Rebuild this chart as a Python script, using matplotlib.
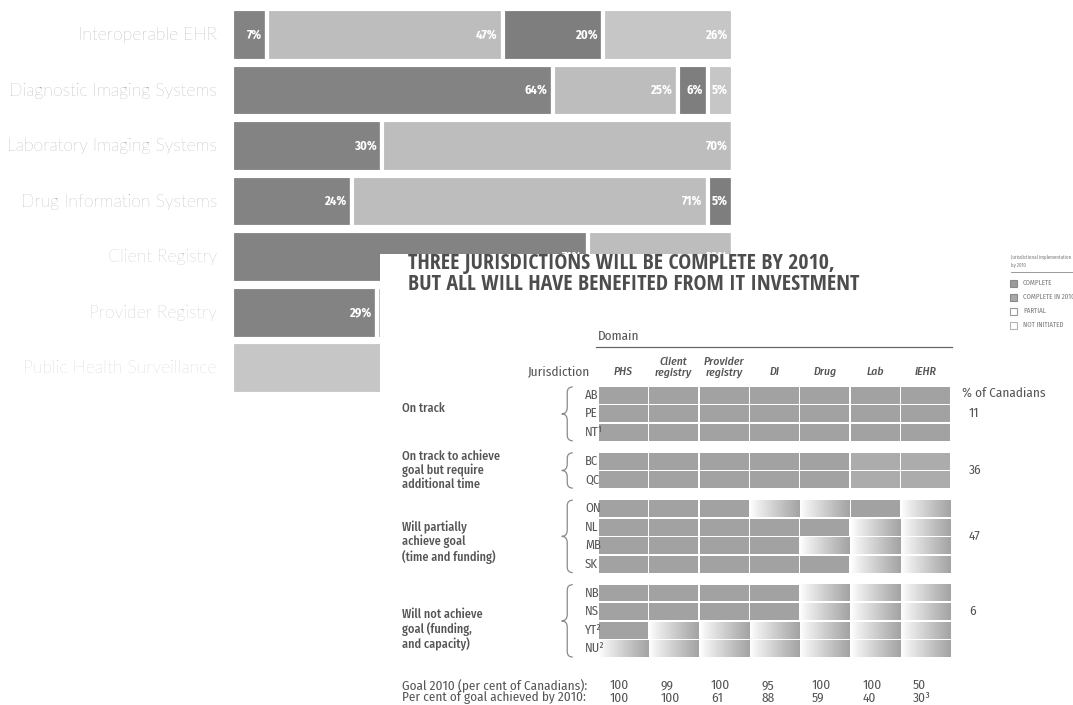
import matplotlib
matplotlib.use('Agg')
import matplotlib.pyplot as plt
import numpy as np
from matplotlib.patches import Rectangle, PathPatch
from matplotlib.path import Path
import matplotlib.transforms as mtransforms
from matplotlib import font_manager as fm

# ---------------- data ----------------
bar_categories = ["Interoperable EHR", "Diagnostic Imaging Systems", "Laboratory Imaging Systems",
                  "Drug Information Systems", "Client Registry", "Provider Registry",
                  "Public Health Surveillance"]
seg_1 = [7, 64, 30, 24, 71, 29, 0]
seg_2 = [47, 25, 70, 71, 29, 71, 0]
seg_3 = [20, 6, 0, 5, 0, 0, 0]
seg_4 = [26, 5, 0, 0, 0, 0, 100]

domains = ["PHS", "Client\nregistry", "Provider\nregistry", "DI", "Drug", "Lab", "iEHR"]
jurisdictions = ["AB", "PE", "NT¹", "BC", "QC", "ON", "NL", "MB", "SK", "NB", "NS", "YT²", "NU²"]
group_labels = ["On track",
                "On track to achieve\ngoal but require\nadditional time",
                "Will partially\nachieve goal\n(time and funding)",
                "Will not achieve\ngoal (funding,\nand capacity)"]
group_sizes = [3, 2, 4, 4]
pct_canadians = [11, 36, 47, 6]
# 0 complete, 1 complete in 2010, 2 partial, 3 not initiated
status = [
    [0, 0, 0, 0, 0, 0, 0],  # AB
    [0, 0, 0, 0, 0, 0, 0],  # PE
    [0, 0, 0, 0, 0, 0, 0],  # NT
    [0, 0, 0, 0, 0, 1, 1],  # BC
    [0, 0, 0, 0, 0, 1, 1],  # QC
    [0, 0, 0, 2, 2, 0, 2],  # ON
    [0, 0, 0, 0, 0, 2, 2],  # NL
    [0, 0, 0, 0, 2, 2, 2],  # MB
    [0, 0, 0, 0, 0, 2, 2],  # SK
    [0, 0, 0, 0, 2, 2, 2],  # NB
    [0, 0, 0, 0, 2, 2, 2],  # NS
    [0, 2, 2, 2, 2, 2, 2],  # YT
    [2, 2, 2, 2, 2, 2, 2],  # NU
]
goal_2010 = ["100", "99", "100", "95", "100", "100", "50"]
goal_achieved = ["100", "100", "61", "88", "59", "40", "30³"]
legend_labels = ["COMPLETE", "COMPLETE IN 2010", "PARTIAL", "NOT INITIATED"]
title_lines = ["THREE JURISDICTIONS WILL BE COMPLETE BY 2010,",
               "BUT ALL WILL HAVE BENEFITED FROM IT INVESTMENT"]

# ---------------- helpers ----------------
installed = {f.name for f in fm.fontManager.ttflist}
def pick(*names):
    for n in names:
        if n in installed:
            return n
    return 'DejaVu Sans'

F_TITLE = pick('Open Sans Condensed', 'Fira Sans Condensed', 'Asap Condensed', 'Open Sans')
F_LABEL = pick('Lato', 'Open Sans', 'DejaVu Sans')
F_SMALL = pick('Fira Sans Condensed', 'Asap Condensed', 'Liberation Sans Narrow', 'Open Sans')
F_PCT = pick('Fira Sans Condensed', 'Asap Condensed', 'Liberation Sans Narrow', 'Open Sans')

W, H = 1073, 705
fig = plt.figure(figsize=(W / 100, H / 100), dpi=100)
fig.patch.set_facecolor('white')
renderer = fig.canvas.get_renderer()

def fit(t, target):
    w = t.get_window_extent(renderer).width
    t.set_fontsize(t.get_fontsize() * target / w)
    return t.get_fontsize()

# ---------------- bar chart ----------------
ax_b = fig.add_axes([232 / W, 1 - 396 / H, 501 / W, 388.75 / H])
ax_b.set_zorder(1)
ax_b.set_xlim(0, 100)
ax_b.set_ylim(len(bar_categories) - 0.5, -0.5)
ax_b.axis('off')
ypos = np.arange(len(bar_categories))
seg_colors = ['#838383', '#bdbdbd', '#7e7e7e', '#c6c6c6']
left = np.zeros(len(bar_categories))
for vals, col in zip([seg_1, seg_2, seg_3, seg_4], seg_colors):
    vals = np.array(vals, float)
    ax_b.barh(ypos, vals, left=left, height=0.93, color=col, edgecolor='white', linewidth=3)
    for y, l, v in zip(ypos, left, vals):
        if v > 0:
            ax_b.annotate(f"{int(v)}%", (l + v, y), xytext=(-4, 0), textcoords='offset points',
                          ha='right', va='center', color='white', fontsize=9,
                          fontweight='bold', family=F_PCT)
    left += vals

label_colors = ['#858585', '#878787', '#8a8a8a', '#8e8e8e', '#a0a0a0', '#a4a4a4', '#bababa']
bar_texts = []
for y, lab, c in zip(ypos, bar_categories, label_colors):
    t = ax_b.annotate(lab, (0, y), xytext=(-15, 0), textcoords='offset pixels', ha='right',
                      va='center', color=c, fontsize=12, family=F_LABEL, fontweight='light')
    bar_texts.append(t)
s = fit(bar_texts[1], 207)
for t in bar_texts:
    t.set_fontsize(s)

# ---------------- overlay panel ----------------
ax_o = fig.add_axes([0, 0, 1, 1])
ax_o.set_zorder(2)
ax_o.set_xlim(0, W)
ax_o.set_ylim(H, 0)
ax_o.axis('off')
ax_o.patch.set_alpha(0)
ax_o.add_patch(Rectangle((380, 254), W - 380, H - 254, facecolor='white', edgecolor='none'))

tt = []
for i, line in enumerate(title_lines):
    tt.append(ax_o.text(408, 263 + 22 * i, line, ha='left', va='center', color='#4d4d4d',
                        fontsize=14, fontweight='bold', family=F_TITLE))
s = fit(tt[0], 430)
tt[1].set_fontsize(s)

# ---------------- table grid ----------------
gap = 0.55
row_y = []
group_span = []
cur = 0.0
for gs in group_sizes:
    start = cur
    for k in range(gs):
        row_y.append(cur + 0.5)
        cur += 1
    group_span.append((start, cur))
    cur += gap
total = cur - gap

ax_g = fig.add_axes([598 / W, 1 - 658 / H, 353 / W, 272 / H])
ax_g.set_zorder(3)
ax_g.patch.set_alpha(0)
ax_g.axis('off')
ncol = len(domains)

cell_colors = {0: '#a2a2a2', 1: '#acacac'}
grad_t = np.linspace(0, 1, 80) ** 0.9
px, py = 0.014, 0.045
for r, y in enumerate(row_y):
    for c in range(ncol):
        st = status[r][c]
        x0, x1 = c + px, c + 1 - px
        y0, y1 = y - 0.5 + py, y + 0.5 - py
        if st in cell_colors:
            ax_g.add_patch(Rectangle((x0, y0), x1 - x0, y1 - y0, facecolor=cell_colors[st],
                                     edgecolor='none'))
        else:
            end = np.array([0.64, 0.64, 0.64]) if st == 2 else np.array([0.78, 0.78, 0.78])
            img = (1 - grad_t)[:, None] * np.ones(3) + grad_t[:, None] * end
            ax_g.imshow(img[None, :, :], extent=(x0, x1, y1, y0), aspect='auto',
                        interpolation='bilinear')
ax_g.set_xlim(0, ncol)
ax_g.set_ylim(total, 0)

txt_col = '#555555'
blend = mtransforms.blended_transform_factory(ax_o.transData, ax_g.transData)

# bottom rows (also used to size table text)
foot_y = [16.15, 16.8]
probe = ax_o.text(402, foot_y[0], "Goal 2010 (per cent of Canadians):", transform=blend,
                  ha='left', va='center', fontsize=7.5, color=txt_col, family=F_SMALL)
tsize = fit(probe, 186)
ax_o.text(402, foot_y[1], "Per cent of goal achieved by 2010:", transform=blend, ha='left',
          va='center', fontsize=tsize, color=txt_col, family=F_SMALL)
for c in range(ncol):
    ax_g.text(c + 0.24, foot_y[0], goal_2010[c], ha='left', va='center', fontsize=tsize,
              color=txt_col, family=F_SMALL)
    ax_g.text(c + 0.24, foot_y[1], goal_achieved[c], ha='left', va='center', fontsize=tsize,
              color=txt_col, family=F_SMALL)

# jurisdictions
for y, j in zip(row_y, jurisdictions):
    ax_g.text(-0.26, y, j, ha='left', va='center', fontsize=tsize * 0.95, color=txt_col,
              family=F_SMALL)

# braces and group labels
label_dy = [-0.3, 0.0, 0.3, 0.45]
pct_dy = [0.0, 0.0, 0.0, -0.5]
for (g0, g1), lab, pc, ldy, pdy in zip(group_span, group_labels, pct_canadians, label_dy, pct_dy):
    xr, xl = -0.50, -0.72
    xm = (xr + xl) / 2
    ym = (g0 + g1) / 2
    d = 0.35
    verts = [(xr, g0 + 0.05), (xm, g0 + 0.05), (xm, g0 + d),
             (xm, ym - d),
             (xm, ym), (xl, ym), (xl, ym),
             (xm, ym), (xm, ym + d),
             (xm, g1 - d),
             (xm, g1 - 0.05), (xr, g1 - 0.05)]
    codes = [Path.MOVETO, Path.CURVE3, Path.CURVE3,
             Path.LINETO,
             Path.CURVE3, Path.CURVE3, Path.LINETO,
             Path.CURVE3, Path.CURVE3,
             Path.LINETO,
             Path.CURVE3, Path.CURVE3]
    ax_g.add_patch(PathPatch(Path(verts, codes), facecolor='none', edgecolor='#8a8a8a',
                             lw=0.9, clip_on=False))
    ax_o.text(402, ym + ldy, lab, transform=blend, ha='left', va='center', fontsize=tsize * 0.92,
              color=txt_col, family=F_SMALL, fontweight='medium', linespacing=1.12)
    ax_o.text(969, ym + pdy, str(pc), transform=blend, ha='left', va='center', fontsize=tsize,
              color=txt_col, family=F_SMALL)

ax_o.text(962, row_y[0] - 0.1, "% of Canadians", transform=blend, ha='left', va='center',
          fontsize=tsize, color=txt_col, family=F_SMALL)

# headers
for c, d in enumerate(domains):
    ax_g.text(c + 0.5, -0.45, d, ha='center', va='bottom', fontsize=tsize * 0.88, color=txt_col,
              family=F_SMALL, style='italic', fontweight='medium', linespacing=1.0)
ax_g.text(-0.15, -0.45, "Jurisdiction", ha='right', va='bottom', fontsize=tsize, color=txt_col,
          family=F_SMALL)
ax_g.text(0.0, -2.65, "Domain", ha='left', va='center', fontsize=tsize, color=txt_col,
          family=F_SMALL)
ax_g.plot([-0.04, ncol + 0.02], [-2.1, -2.1], color='#666666', lw=0.9, clip_on=False)

# legend
ax_o.text(1011, 257, "Jurisdictional implementation", ha='left', va='center', fontsize=3.5,
          color='#777777', family=F_SMALL)
ax_o.text(1011, 265.5, "by 2010", ha='left', va='center', fontsize=3.5, color='#777777',
          family=F_SMALL)
ax_o.plot([1011, W], [271.5, 271.5], color='#999999', lw=0.7)
leg_fill = ['#9a9a9a', '#a8a8a8', 'white', 'white']
leg_edge = ['#8a8a8a', '#8a8a8a', '#9a9a9a', '#b5b5b5']
for i, lab in enumerate(legend_labels):
    yy = 283 + 14 * i
    ax_o.add_patch(Rectangle((1010, yy - 3.5), 7, 7, facecolor=leg_fill[i], edgecolor=leg_edge[i],
                             lw=0.8))
    ax_o.text(1023, yy, lab, ha='left', va='center', fontsize=5.0, color='#777777',
              family=F_SMALL)

fig.savefig('out.png', dpi=100, facecolor='white')
